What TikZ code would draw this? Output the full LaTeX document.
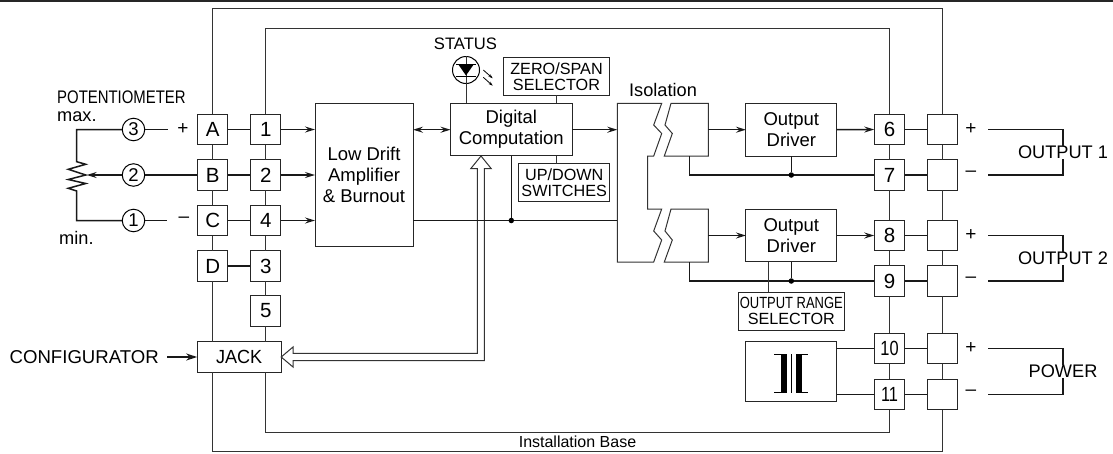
\documentclass[tikz,border=0pt]{standalone}
\usepackage{fontspec}
\setmainfont{Liberation Sans}
\usetikzlibrary{arrows.meta,positioning}

\tikzset{
    >={Stealth[length=10pt,width=6pt,inset=3.5pt]},
    thinline/.style={line width=1pt,draw=black!80},
    wire/.style={line width=1.5pt,draw=black!90},
    block/.style={draw=black!85,line width=1pt,fill=white,inner sep=0pt,outer sep=0pt,align=center,font=\fontsize{18.5}{21}\selectfont},
    term/.style={block,minimum width=30.5pt,minimum height=30.5pt,font=\fontsize{20.5}{21}\selectfont},
    caps/.style={block,font=\fontsize{16.2}{16.5}\selectfont},
    lbl/.style={inner sep=0pt,font=\fontsize{18.2}{20}\selectfont},
    numc/.style={circle,draw=black,line width=1pt,fill=white,minimum size=22.5pt,inner sep=0pt,font=\fontsize{18.5}{20}\selectfont},
    jdot/.style={circle,fill=black,inner sep=0pt,minimum size=5.5pt},
}

\begin{document}
\begin{tikzpicture}[x=1pt,y=-1pt]
    \useasboundingbox (0,0) rectangle (1113,453);
    \fill [black!85] (0,0) rectangle (1113,1.5);

    % Base and terminal columns
    \foreach \nm/\txt/\yy in {A/A/129.5,B/B/175,C/C/220.5,D/D/266}
        \node [term] (\nm) at (212.7,\yy) {\txt};
    \foreach \nm/\txt/\yy in {T1/1/129.5,T2/2/175,T4/4/220.5,T3/3/266,T5/5/311}
        \node [term] (\nm) at (265.7,\yy) {\txt};
    \foreach \nm/\txt/\yy in {T6/6/129.5,T7/7/175,T8/8/235.5,T9/9/281}
        \node [term] (\nm) at (889.5,\yy) {\txt};
    \node [term] (T10) at (889.5,348.7) {\scalebox{0.8}[1]{10}};
    \node [term] (T11) at (889.5,394.3) {\scalebox{0.8}[1]{11}};
    \foreach \nm/\yy in {R6/129.5,R7/175,R8/235.5,R9/281,R10/348.7,R11/394.3}
        \node [term] (\nm) at (942.5,\yy) {};
    \node [block,minimum width=84pt,minimum height=30.5pt,font=\fontsize{19}{20}\selectfont] (jack) at (239.2,357) {\scalebox{0.95}[1]{JACK}};

    \coordinate (outertop) at (0,8.5);
    \coordinate (innertop) at (0,28);
    \coordinate (outerbot) at (0,451);
    \coordinate (innerbot) at (0,432);
    \draw [thinline] (A.north) |- (outertop -| R6) -- (R6.north);
    \draw [thinline] (T1.north) |- (innertop -| T6) -- (T6.north);
    \draw [thinline] (D |- jack.south) |- (outerbot -| R11) -- (R11.south);
    \draw [thinline] (T3 |- jack.south) |- (innerbot -| T11) -- (T11.south);
    \draw [thinline] (A) -- (B);
    \draw [thinline] (B) -- (C);
    \draw [thinline] (C) -- (D);
    \draw [thinline] (D) -- (D |- jack.north);
    \draw [thinline] (T1) -- (T2);
    \draw [thinline] (T2) -- (T4);
    \draw [thinline] (T4) -- (T3);
    \draw [thinline] (T3) -- (T5);
    \draw [thinline] (T5) -- (T5 |- jack.north);
    \foreach \aa/\bb in {T6/T7,T7/T8,T8/T9,T9/T10,T10/T11,R6/R7,R7/R8,R8/R9,R9/R10,R10/R11}
        \draw [thinline] (\aa) -- (\bb);
    \node [font=\fontsize{16}{18}\selectfont,inner sep=0pt] (basetxt) at (577.5,441.5) {Installation Base};

    % Main blocks
    \node [block,minimum width=98pt,minimum height=142.5pt] (drift) at (364,175) {Low Drift\\Amplifier\\\&~Burnout};
    \node [block,minimum width=121.5pt,minimum height=52.5pt] (digi) at (511.3,129.7) {Digital\\Computation};
    \node [caps,minimum width=106pt,minimum height=37.5pt] (zero) at (556.5,76.7) {ZERO/SPAN\\SELECTOR};
    \node [caps,minimum width=90.5pt,minimum height=38pt] (updown) at (564.2,182.5) {UP/DOWN\\SWITCHES};
    \node [block,minimum width=90.7pt,minimum height=52.7pt] (drv1) at (791.3,129.7) {Output\\Driver};
    \node [block,minimum width=90.7pt,minimum height=52.7pt] (drv2) at (791.3,235.5) {Output\\Driver};
    \node [caps,minimum width=106pt,minimum height=38pt] (range) at (791.3,311) {\scalebox{0.8}[1]{OUTPUT RANGE}\\SELECTOR};
    \node [block,minimum width=91pt,minimum height=60.7pt] (xfmr) at (791.2,371.6) {};
    \node [lbl] (isotxt) at (663,90) {Isolation};
    \node [lbl,font=\fontsize{16.6}{18}\selectfont] (stattxt) at (465.5,44) {STATUS};

    % Isolation
    \draw [thinline] (617.3,103.3) -- (661.7,103.3) -- (653.7,125) -- (661.7,133.5) -- (653.7,156) -- (647.7,156)
        -- (647.7,209) -- (661.7,209) -- (653.7,231) -- (661.7,240) -- (653.7,262) -- (617.3,262) -- cycle;
    \draw [thinline] (671,103.3) -- (708.3,103.3) -- (708.3,156) -- (664.3,156) -- (672.3,133.5) -- (665,125) -- cycle;
    \draw [thinline] (671,209) -- (708.3,209) -- (708.3,262) -- (664.3,262) -- (672.3,240) -- (665,231) -- cycle;
    \coordinate (isoin1) at (617.3,129.7);
    \coordinate (isoin2) at (617.3,220.5);
    \coordinate (isoout1) at (708.3,129.7);
    \coordinate (isoout2) at (708.3,235.5);
    \coordinate (isobot1) at (689.3,156);
    \coordinate (isobot2) at (689.3,262);

    % Signal wires
    \foreach \nn in {1,2,4}
        \draw [wire,->] (T\nn.east) -- (T\nn.east -| drift.west);
    \draw [wire] (A) -- (T1);
    \draw [wire] (B) -- (T2);
    \draw [wire] (C) -- (T4);
    \draw [wire] (D) -- (T3);
    \draw [wire,<->] (drift.east |- digi) -- (digi.west);
    \draw [wire,->] (digi.east) -- (isoin1);
    \draw [wire] (drift.east |- isoin2) -- (isoin2);
    \node [jdot] (j0) at (511.3,220.5) {};
    \draw [wire] (j0) -- (digi.south);
    \draw [wire,->] (isoout1) -- (drv1.west);
    \draw [wire,->] (isoout2) -- (drv2.west);
    \draw [wire,->] (drv1.east) -- (T6.west);
    \draw [wire,->] (drv2.east) -- (T8.west);
    \draw [wire] (isobot1) |- (T7.west);
    \draw [wire] (isobot2) |- (T9.west);
    \node [jdot] (j1) at (791.3,175) {};
    \node [jdot] (j2) at (791.3,281) {};
    \draw [wire] (drv1.south) -- (j1);
    \draw [wire] (drv2.south) -- (j2);
    \draw [thinline] (768.7,262) -- (768.7,292);
    \draw [thinline] (zero.south) -- (zero.south |- digi.north);
    \draw [thinline] (updown.north -| zero.south) -- (zero.south |- digi.south);
    \foreach \aa/\bb in {T6/R6,T7/R7,T8/R8,T9/R9,T10/R10,T11/R11}
        \draw [wire] (\aa) -- (\bb);
    \draw [wire] (xfmr.east |- T10) -- (T10.west);
    \draw [wire] (xfmr.east |- T11) -- (T11.west);

    % Hollow bus
    \draw [thinline,fill=white,miter limit=20] (jack.east) -- (293,347) -- (293,353.3) -- (477.3,353.3) -- (477.3,168.7)
        -- (470.7,168.7) -- (481,156) -- (491.3,168.7) -- (484.3,168.7) -- (484.3,360.7) -- (293,360.7) -- (293,367) -- cycle;
    \draw [wire] (drift.east |- isoin2) -- (j0);

    % Status lamp
    \node [circle,draw=black,line width=1pt,minimum size=27pt,inner sep=0pt] (led) at (466,70) {};
    \draw [thinline] (led.north) -- (led.north |- digi.north);
    \fill [black] (458,64) -- (474,64) -- (466,75.5) -- cycle;
    \draw [line width=1pt] (456,64) -- (476,64);
    \draw [line width=1pt] (456,76) -- (476,76);
    \draw [line width=0.8pt,-{Stealth[length=4.5pt,width=3pt]}] (483.3,70) -- (492.7,78.3);
    \draw [line width=0.8pt,-{Stealth[length=4.5pt,width=3pt]}] (483.3,77.3) -- (492.7,85.7);

    % Transformer
    \fill [black] (780.7,354) rectangle (786.7,392.7);
    \fill [black] (796,354) rectangle (802.3,392.7);
    \draw [line width=0.8pt] (774.3,354) -- (786.7,354);
    \draw [line width=0.8pt] (774.3,392.7) -- (786.7,392.7);
    \draw [line width=0.8pt] (796,354) -- (808.3,354);
    \draw [line width=0.8pt] (796,392.7) -- (808.3,392.7);
    \draw [line width=0.8pt] (791.3,354) -- (791.3,392.7);

    % Potentiometer
    \node [numc] (c3) at (133.5,129.5) {3};
    \node [numc] (c2) at (133.5,175) {2};
    \node [numc] (c1) at (133.5,220.5) {1};
    \coordinate (wipe) at (86.7,175);
    \coordinate (end3) at (168,129.5);
    \coordinate (end1) at (167,220.5);
    \draw [wire] (c3) -- (end3);
    \draw [wire] (c1) -- (end1);
    \draw [wire,line join=miter] (c3.west) -| (76.7,161.7) -- (85.7,164.3) -- (68.3,169.3) -- (85.7,175) -- (68.3,179.5) -- (85.7,183.5) -- (68.3,188.3) -- (76.7,191) |- (c1.west);
    \draw [wire,->] (c2.west) -- (wipe);
    \draw [wire] (B.west) -- (c2.east);
    \node [lbl,anchor=west] (pottxt) at (57,97) {\scalebox{0.82}[1]{POTENTIOMETER}};
    \node [lbl,anchor=west] (maxtxt) at (57,117) {max.};
    \node [lbl,anchor=west] (mintxt) at (59,238) {min.};

    % Polarity marks
    \node [lbl,font=\fontsize{19}{20}\selectfont] (pa) at (183,129) {+};
    \node [lbl,font=\fontsize{19}{20}\selectfont] (mc) at (184,220) {--};
    \foreach \nm/\sy/\yy in {p6/+/129,m7/--/174,p8/+/235,m9/--/280,p10/+/348,m11/--/393}
        \node [lbl,font=\fontsize{19}{20}\selectfont] (\nm) at (971,\yy) {\sy};

    % Outputs
    \foreach \nm/\txt/\ya/\yb/\rr in {outa/OUTPUT 1/129.5/175/R6,outb/OUTPUT 2/235.5/281/R8,outc/POWER/348.7/394.3/R10} {
        \pgfmathsetmacro{\ymid}{(\ya+\yb)/2}
        \node [lbl] (\nm) at (1063,\ymid) {\txt};
        \coordinate (\nm up) at (988,\ya);
        \coordinate (\nm lo) at (988,\yb);
        \draw [wire] (\nm up) -| (\nm.north);
        \draw [wire] (\nm lo) -| (\nm.south);
    }

    % Configurator
    \node [lbl,anchor=east] (conf) at (159,357) {\fontsize{18.6}{20}\selectfont CONFIGURATOR};
    \draw [wire,-{Stealth[length=11pt,width=7pt]}] (167,357) -- (jack.west);
\end{tikzpicture}
\end{document}
